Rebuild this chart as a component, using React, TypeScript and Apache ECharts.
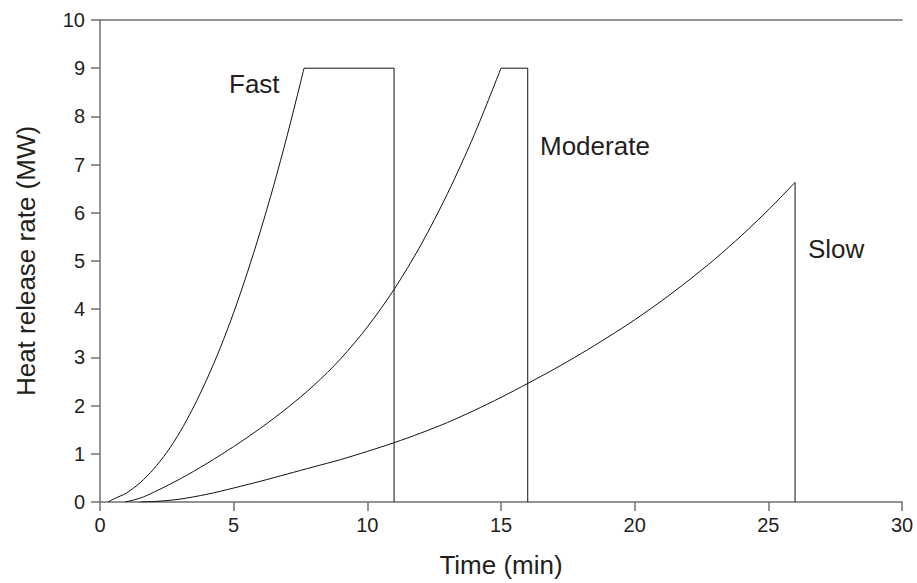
import React, { useEffect, useRef } from "react";
import * as echarts from "echarts";

// Time (min) and heat release rate (MW)
const fastTime = [0.3, 0.5, 1, 1.5, 2, 2.5, 3, 3.5, 4, 4.5, 5, 5.5, 6, 6.5, 7, 7.5, 7.63, 11, 11];
const fastHrr = [0, 0.06, 0.19, 0.4, 0.68, 1.03, 1.46, 1.97, 2.55, 3.2, 3.93, 4.74, 5.62, 6.57, 7.6, 8.7, 9, 9, 0];

const moderateTime = [0.94, 1.5, 2, 3, 4, 5, 6, 7, 8, 9, 10, 11, 12, 13, 14, 15, 16, 16];
const moderateHrr = [0, 0.08, 0.2, 0.48, 0.8, 1.15, 1.53, 1.95, 2.42, 2.97, 3.63, 4.41, 5.33, 6.4, 7.62, 9, 9, 0];

const slowTime = [1.5, 2, 2.5, 3, 4, 5, 6, 7, 8, 9, 10, 11, 12, 13, 14, 15, 16, 17, 18, 19, 20, 21, 22, 23, 24, 25, 26, 26];
const slowHrr = [0, 0.01, 0.03, 0.06, 0.16, 0.29, 0.43, 0.58, 0.73, 0.88, 1.05, 1.23, 1.43, 1.65, 1.9, 2.17, 2.46, 2.76, 3.08, 3.42, 3.78, 4.17, 4.59, 5.04, 5.53, 6.06, 6.63, 0];

const seriesNames = ["Fast", "Moderate", "Slow"];
const xTitle = "Time (min)";
const yTitle = "Heat release rate (MW)";

const FONT = '"Liberation Sans", Arial, Helvetica, sans-serif';
const AXIS_COLOR = "#707070";
const TEXT_COLOR = "#231f20";

function pairs(xs: number[], ys: number[]) {
  return xs.map((x, i) => [x, ys[i]]);
}

// split into the growing curve (up to the peak) and the straight tail (plateau + drop)
function split(xs: number[], ys: number[]) {
  const all = pairs(xs, ys);
  let peak = 0;
  for (let i = 1; i < ys.length; i++) if (ys[i] > ys[peak]) peak = i;
  return { curve: all.slice(0, peak + 1), tail: all.slice(peak) };
}

export default function App() {
  const ref = useRef<HTMLDivElement>(null);
  useEffect(() => {
    if (!ref.current) return;
    const chart = echarts.init(ref.current, null, { renderer: "svg" });
    const mk = (name: string, xs: number[], ys: number[]) => {
      const { curve, tail } = split(xs, ys);
      const base = {
        type: "line",
        symbol: "none",
        silent: true,
        lineStyle: { color: "#111", width: 1 },
      };
      return [
        { ...base, name, data: curve, smooth: 0.3 },
        { ...base, name: name + " tail", data: tail, smooth: false },
      ];
    };
    chart.setOption({
      animation: false,
      backgroundColor: "#fff",
      grid: { left: 100, right: 15, top: 20, bottom: 80, containLabel: false },
      xAxis: [
        {
          type: "value",
          min: 0,
          max: 30,
          interval: 5,
          position: "bottom",
          name: xTitle,
          nameLocation: "middle",
          nameGap: 50,
          nameTextStyle: { fontFamily: FONT, fontSize: 26, color: TEXT_COLOR },
          axisLine: { show: true, lineStyle: { color: AXIS_COLOR, width: 1.5 } },
          axisTick: { show: true, length: 9, lineStyle: { color: AXIS_COLOR, width: 1.5 } },
          axisLabel: { fontFamily: FONT, fontSize: 20, color: TEXT_COLOR, margin: 13 },
          splitLine: { show: false },
        },
        {
          type: "value",
          min: 0,
          max: 30,
          position: "top",
          axisLine: { show: true, lineStyle: { color: AXIS_COLOR, width: 1.5 } },
          axisTick: { show: false },
          axisLabel: { show: false },
          splitLine: { show: false },
        },
      ],
      yAxis: {
        type: "value",
        min: 0,
        max: 10,
        interval: 1,
        name: yTitle,
        nameLocation: "middle",
        nameGap: 61,
        nameRotate: 90,
        nameTextStyle: { fontFamily: FONT, fontSize: 26, color: TEXT_COLOR },
        axisLine: { show: true, lineStyle: { color: AXIS_COLOR, width: 1.5 } },
        axisTick: { show: true, length: 9, lineStyle: { color: AXIS_COLOR, width: 1.5 } },
        axisLabel: { fontFamily: FONT, fontSize: 20, color: TEXT_COLOR, margin: 15 },
        splitLine: { show: false },
      },
      series: [
        ...mk(seriesNames[0], fastTime, fastHrr),
        ...mk(seriesNames[1], moderateTime, moderateHrr),
        ...mk(seriesNames[2], slowTime, slowHrr),
      ],
      graphic: [
        {
          type: "text",
          left: 229,
          top: 71,
          style: { text: seriesNames[0], fontFamily: FONT, fontSize: 26, fill: TEXT_COLOR },
        },
        {
          type: "text",
          left: 540,
          top: 133,
          style: { text: seriesNames[1], fontFamily: FONT, fontSize: 26, fill: TEXT_COLOR },
        },
        {
          type: "text",
          left: 808,
          top: 236,
          style: { text: seriesNames[2], fontFamily: FONT, fontSize: 26, fill: TEXT_COLOR },
        },
      ],
    });
    return () => chart.dispose();
  }, []);
  return <div ref={ref} style={{ width: 917, height: 583, position: "fixed", left: 0, top: 0 }} />;
}
